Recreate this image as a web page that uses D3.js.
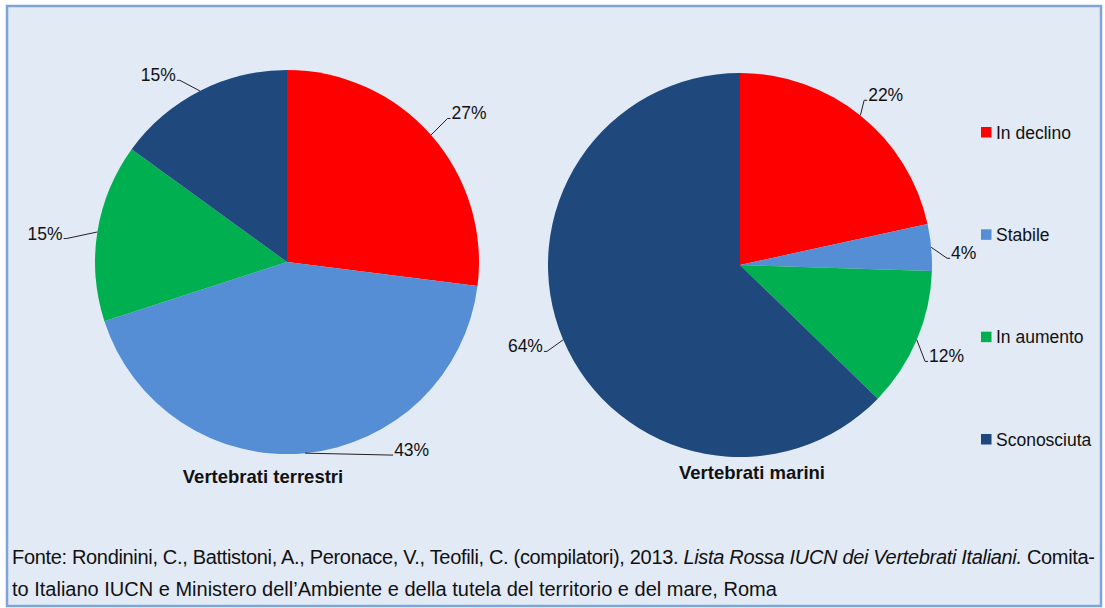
<!DOCTYPE html>
<html>
<head>
<meta charset="utf-8">
<script src="https://cdn.jsdelivr.net/npm/d3@7"></script>
<style>
  body { margin: 0; background: #fff; }
  svg { display: block; font-family: "Liberation Sans", Arial, sans-serif; }
</style>
</head>
<body>
<svg id="chart" width="1105" height="608"></svg>
<script>
const categories = ['In declino', 'Stabile', 'In aumento', 'Sconosciuta'];
const colorsList = ['#ff0000', '#558ed5', '#00b050', '#1f497d'];
const terrestri = [27, 43, 15, 15];
const marini = [22, 4, 12, 64];
const titles = ['Vertebrati terrestri', 'Vertebrati marini'];

// label nudges (px) relative to the radial default, Excel "best fit" look
const nudgeTerrestri = [[0, -2], [83, -20], [-9, 10], [-10, 9]];
const nudgeMarini = [[-10, 2], [-6, 13], [-12, 13], [4, 3]];

const svg = d3.select('#chart');
const color = d3.scaleOrdinal(categories, colorsList);

svg.append('rect')
  .attr('x', 7).attr('y', 6).attr('width', 1094).attr('height', 600)
  .attr('fill', '#e2eaf6')
  .attr('stroke', '#7ea4d8').attr('stroke-width', 2.5);

const radius = 192;
const pie = d3.pie().sort(null).value(d => d.value);
const arc = d3.arc().innerRadius(0).outerRadius(radius);

function drawPie(values, nudges, cx, cy, title, titleX, titleY) {
  const data = categories.map((c, i) => ({ label: c, value: values[i] }));
  const g = svg.append('g').attr('transform', `translate(${cx},${cy})`);
  const arcs = pie(data);

  g.selectAll('path')
    .data(arcs)
    .join('path')
    .attr('d', arc)
    .attr('fill', d => color(d.data.label));

  arcs.forEach((d, i) => {
    const mid = (d.startAngle + d.endAngle) / 2;
    const sx = Math.sin(mid) * radius, sy = -Math.cos(mid) * radius;
    const ex = Math.sin(mid) * (radius + 22) + nudges[i][0];
    const ey = -Math.cos(mid) * (radius + 22) + nudges[i][1];
    const right = ex > 0;
    const fx = ex + (right ? 3 : -3);
    g.append('polyline')
      .attr('points', `${sx},${sy} ${ex},${ey} ${fx},${ey}`)
      .attr('fill', 'none')
      .attr('stroke', '#222')
      .attr('stroke-width', 1);
    g.append('text')
      .attr('x', fx + (right ? 1 : -1))
      .attr('y', ey + 1)
      .attr('text-anchor', right ? 'start' : 'end')
      .attr('font-size', 17.5)
      .attr('fill', '#111')
      .text(d.data.value + '%');
  });

  svg.append('text')
    .attr('x', titleX).attr('y', titleY)
    .attr('text-anchor', 'middle')
    .attr('font-size', 18.5)
    .attr('font-weight', 'bold')
    .attr('fill', '#111')
    .text(title);
}

drawPie(terrestri, nudgeTerrestri, 287, 262, titles[0], 263, 483);
drawPie(marini, nudgeMarini, 740, 265, titles[1], 752, 479);

// legend
const legendY = d3.scalePoint().domain(categories).range([132, 439]);
const lg = svg.append('g');
categories.forEach(c => {
  lg.append('rect')
    .attr('x', 981).attr('y', legendY(c) - 5)
    .attr('width', 10.5).attr('height', 10.5)
    .attr('fill', color(c));
  lg.append('text')
    .attr('x', 996).attr('y', legendY(c) + 6.5)
    .attr('font-size', 17.5)
    .attr('fill', '#111')
    .text(c);
});

// source note
const note1 = svg.append('text')
  .attr('x', 12).attr('y', 564)
  .attr('font-size', 20)
  .attr('fill', '#111')
  .attr('textLength', 1083)
  .attr('lengthAdjust', 'spacing');
note1.append('tspan').text('Fonte: Rondinini, C., Battistoni, A., Peronace, V., Teofili, C. (compilatori), 2013. ');
note1.append('tspan').attr('font-style', 'italic').text('Lista Rossa IUCN dei Vertebrati Italiani.');
note1.append('tspan').text(' Comita-');

svg.append('text')
  .attr('x', 12).attr('y', 596)
  .attr('font-size', 20)
  .attr('fill', '#111')
  .text('to Italiano IUCN e Ministero dell\u2019Ambiente e della tutela del territorio e del mare, Roma');
</script>
</body>
</html>
